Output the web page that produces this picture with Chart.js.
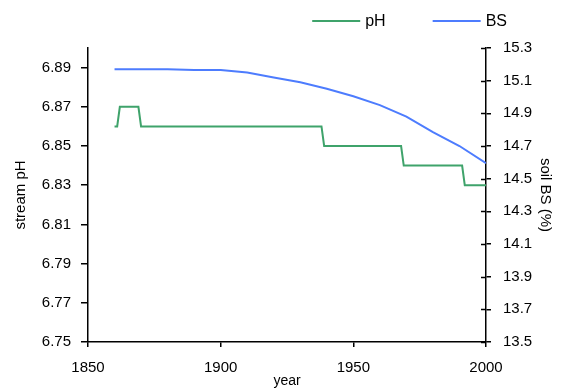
<!DOCTYPE html>
<html>
<head>
<meta charset="utf-8">
<script src="https://cdn.jsdelivr.net/npm/chart.js@4.4.1/dist/chart.umd.min.js"></script>
<style>
  html, body { margin: 0; padding: 0; background: #fff; }
</style>
</head>
<body>
<canvas id="myChart" width="566" height="392"></canvas>
<script>
// stream pH, steps
const phYears = [1860, 1861, 1862, 1869, 1870, 1938, 1939, 1968, 1969, 1991, 1992, 2000];
const phValues = [6.86, 6.86, 6.87, 6.87, 6.86, 6.86, 6.85, 6.85, 6.84, 6.84, 6.83, 6.83];

// soil base saturation (%)
const bsYears = [1860, 1870, 1880, 1890, 1900, 1910, 1920, 1930, 1940, 1950, 1960, 1970, 1980, 1990, 2000];
const bsValues = [15.17, 15.17, 15.17, 15.165, 15.165, 15.15, 15.12, 15.09, 15.05, 15.005, 14.95, 14.88, 14.785, 14.70, 14.595];

// tick labels
const yearTicks = [1850, 1900, 1950, 2000];
const phTicks = [6.75, 6.77, 6.79, 6.81, 6.83, 6.85, 6.87, 6.89];
const bsTicks = [13.5, 13.7, 13.9, 14.1, 14.3, 14.5, 14.7, 14.9, 15.1, 15.3];

const font = { family: '"Liberation Sans", Arial, sans-serif', size: 15 };
const axisColor = '#000';

// legend drawn as short lines with label, right aligned at the top
const lineLegend = {
  id: 'lineLegend',
  afterDraw(chart) {
    const ctx = chart.ctx;
    const sets = chart.data.datasets;
    const lineLen = 48, gap = 5, spacing = 47;
    ctx.save();
    ctx.font = '16px ' + font.family;
    ctx.textBaseline = 'middle';
    const widths = sets.map(d => lineLen + gap + ctx.measureText(d.label).width);
    const total = widths.reduce((a, b) => a + b, 0) + spacing * (sets.length - 1);
    let x = chart.width - 59 - total;
    const y = 21;
    sets.forEach((d, i) => {
      ctx.strokeStyle = d.borderColor;
      ctx.lineWidth = 2;
      ctx.beginPath();
      ctx.moveTo(x, y);
      ctx.lineTo(x + lineLen, y);
      ctx.stroke();
      ctx.fillStyle = axisColor;
      ctx.fillText(d.label, x + lineLen + gap, y + 1);
      x += widths[i] + spacing;
    });
    ctx.restore();
  }
};

// right axis ticks cross the axis line, draw the inner half
const innerTicks = {
  id: 'innerTicks',
  afterDraw(chart) {
    const s = chart.scales.yBS;
    const ctx = chart.ctx;
    ctx.save();
    ctx.strokeStyle = axisColor;
    ctx.lineWidth = 1.5;
    s.ticks.forEach(t => {
      const y = Math.round(s.getPixelForValue(t.value)) + 0.5;
      ctx.beginPath();
      ctx.moveTo(s.left, y);
      ctx.lineTo(s.left - 5, y);
      ctx.stroke();
    });
    ctx.restore();
  }
};

const ctx = document.getElementById('myChart').getContext('2d');
const myChart = new Chart(ctx, {
  type: 'line',
  data: {
    datasets: [
      {
        label: 'pH',
        data: phYears.map((yr, i) => ({ x: yr, y: phValues[i] })),
        borderColor: '#3fa36b',
        borderWidth: 2,
        pointRadius: 0,
        tension: 0,
        yAxisID: 'yPH'
      },
      {
        label: 'BS',
        data: bsYears.map((yr, i) => ({ x: yr, y: bsValues[i] })),
        borderColor: '#4d7cfe',
        borderWidth: 2,
        pointRadius: 0,
        tension: 0,
        yAxisID: 'yBS'
      }
    ]
  },
  options: {
    responsive: false,
    animation: false,
    layout: { padding: { top: 48, right: 0, bottom: 0, left: 0 } },
    plugins: {
      legend: { display: false },
      tooltip: { enabled: false }
    },
    scales: {
      x: {
        type: 'linear',
        min: 1850,
        max: 2000,
        afterBuildTicks: s => { s.ticks = yearTicks.map(v => ({ value: v })); },
        afterFit: s => { s.height = 50; },
        grid: { drawOnChartArea: false, tickLength: 5, color: axisColor, lineWidth: 1.5 },
        border: { display: true, color: axisColor, width: 1.5 },
        ticks: { font: font, color: axisColor, padding: 12, maxRotation: 0, callback: v => String(v) },
        title: { display: true, text: 'year', font: { family: font.family, size: 14 }, color: axisColor, padding: { top: 0, bottom: 2 } }
      },
      yPH: {
        position: 'left',
        min: 6.75,
        max: 6.9,
        afterBuildTicks: s => { s.ticks = phTicks.map(v => ({ value: v })); },
        afterFit: s => { s.width = 88; },
        grid: { drawOnChartArea: false, tickLength: 7, color: axisColor, lineWidth: 1.5 },
        border: { display: true, color: axisColor, width: 1.5 },
        ticks: { font: font, color: axisColor, padding: 10, callback: v => v.toFixed(2) },
        title: { display: true, text: 'stream pH', font: { family: font.family, size: 15 }, color: axisColor, padding: { top: 12, bottom: 0 } }
      },
      yBS: {
        position: 'right',
        min: 13.5,
        max: 15.3,
        afterBuildTicks: s => { s.ticks = bsTicks.map(v => ({ value: v })); },
        afterFit: s => { s.width = 80; },
        grid: { drawOnChartArea: false, tickLength: 5, color: axisColor, lineWidth: 1.5 },
        border: { display: true, color: axisColor, width: 1.5 },
        ticks: { font: font, color: axisColor, padding: 12, callback: v => v.toFixed(1) },
        title: { display: true, text: 'soil BS (%)', font: { family: font.family, size: 15 }, color: axisColor, padding: { top: 12, bottom: 0 } }
      }
    }
  },
  plugins: [lineLegend, innerTicks]
});
</script>
</body>
</html>
